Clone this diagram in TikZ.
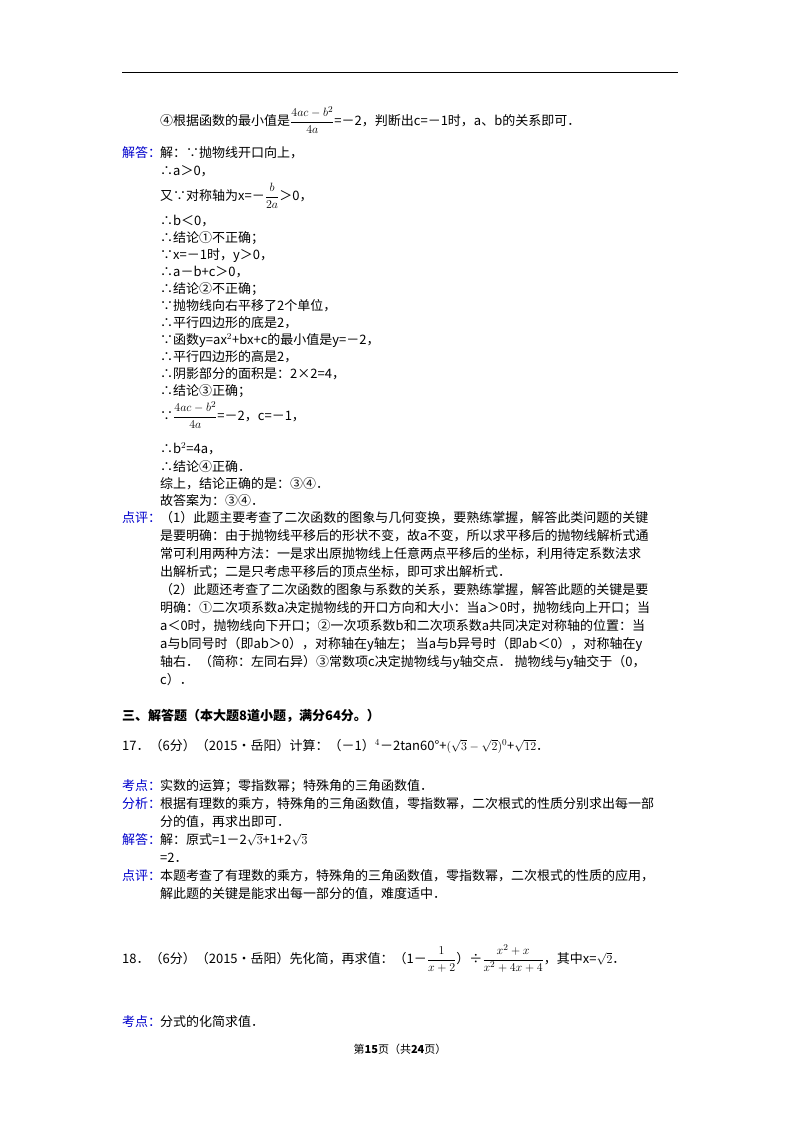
\documentclass[tikz,border=0pt]{standalone}
\usepackage{amsmath}
\usepackage{fontspec}
\setmainfont{Noto Sans CJK SC}
\begin{document}
\begin{tikzpicture}[x=1pt,y=-1pt,
  t/.style={anchor=base west,inner sep=0pt,font=\fontsize{13}{15}\selectfont},
  lab/.style={t,text=blue!80!black}]
\useasboundingbox[fill=white] (0,0) rectangle (800,1132);
\draw[line width=0.8pt] (122,72) -- (678,72);
\node[t] (l1) at (160,125) {④根据函数的最小值是$\dfrac{4ac-b^2}{4a}$=－2，判断出c=－1时，a、b的关系即可．};
\node[lab] (j1) at (122,157) {解答：};
\node[t] (a1) at (160,157) {解：∵抛物线开口向上，};
\node[t] (a2) at (160,175) {∴a＞0，};
\node[t] (a3) at (160,200) {又∵对称轴为x=－$\dfrac{b}{2a}$＞0，};
\node[t] (a4) at (160,225) {∴b＜0，};
\node[t] (a5) at (160,242) {∴结论①不正确；};
\node[t] (a6) at (160,259) {∵x=－1时，y＞0，};
\node[t] (a7) at (160,276) {∴a－b+c＞0，};
\node[t] (a8) at (160,293) {∴结论②不正确；};
\node[t] (a9) at (160,310) {∵抛物线向右平移了2个单位，};
\node[t] (a10) at (160,327) {∴平行四边形的底是2，};
\node[t] (a11) at (160,344) {∵函数y=ax$^2$+bx+c的最小值是y=－2，};
\node[t] (a12) at (160,361) {∴平行四边形的高是2，};
\node[t] (a13) at (160,378) {∴阴影部分的面积是：2×2=4，};
\node[t] (a14) at (160,395) {∴结论③正确；};
\node[t] (a15) at (160,420) {∵$\dfrac{4ac-b^2}{4a}$=－2，c=－1，};
\node[t] (a16) at (160,453) {∴b$^2$=4a，};
\node[t] (a17) at (160,471) {∴结论④正确．};
\node[t] (a18) at (160,488) {综上，结论正确的是：③④．};
\node[t] (a19) at (160,505) {故答案为：③④．};
\node[lab] (p1) at (122,522) {点评：};
\node[t] at (160,522) {（1）此题主要考查了二次函数的图象与几何变换，要熟练掌握，解答此类问题的关键};
\node[t] at (160,540) {是要明确：由于抛物线平移后的形状不变，故a不变，所以求平移后的抛物线解析式通};
\node[t] at (160,558) {常可利用两种方法：一是求出原抛物线上任意两点平移后的坐标，利用待定系数法求};
\node[t] at (160,576) {出解析式；二是只考虑平移后的顶点坐标，即可求出解析式．};
\node[t] at (160,594) {（2）此题还考查了二次函数的图象与系数的关系，要熟练掌握，解答此题的关键是要};
\node[t] at (160,612) {明确：①二次项系数a决定抛物线的开口方向和大小：当a＞0时，抛物线向上开口；当};
\node[t] at (160,630) {a＜0时，抛物线向下开口；②一次项系数b和二次项系数a共同决定对称轴的位置：当};
\node[t] at (160,648) {a与b同号时（即ab＞0），对称轴在y轴左；\ 当a与b异号时（即ab＜0），对称轴在y};
\node[t] at (160,666) {轴右．（简称：左同右异）③常数项c决定抛物线与y轴交点．\ 抛物线与y轴交于（0，};
\node[t] at (160,684) {c）．};
\node[t,font=\fontsize{13}{15}\selectfont\bfseries] (h3) at (122,720) {三、解答题（本大题8道小题，满分64分。）};
\node[t] (q17) at (122,750) {17．（6分）（2015•岳阳）计算：（－1）$^4$－2tan60°+$(\sqrt{3}-\sqrt{2})^0$+$\sqrt{12}$．};
\node[lab] (k1) at (122,790) {考点：};
\node[t] at (160,790) {实数的运算；零指数幂；特殊角的三角函数值．};
\node[lab] (f1) at (122,808) {分析：};
\node[t] at (160,808) {根据有理数的乘方，特殊角的三角函数值，零指数幂，二次根式的性质分别求出每一部};
\node[t] at (160,826) {分的值，再求出即可．};
\node[lab] (j2) at (122,844) {解答：};
\node[t] at (160,844) {解：原式=1－2$\sqrt{3}$+1+2$\sqrt{3}$};
\node[t] at (160,862) {=2．};
\node[lab] (p2) at (122,880) {点评：};
\node[t] at (160,880) {本题考查了有理数的乘方，特殊角的三角函数值，零指数幂，二次根式的性质的应用，};
\node[t] at (160,898) {解此题的关键是能求出每一部分的值，难度适中．};
\node[t] (q18) at (122,963) {18．（6分）（2015•岳阳）先化简，再求值：（1－$\dfrac{1}{x+2}$）÷$\dfrac{x^2+x}{x^2+4x+4}$，其中x=$\sqrt{2}$．};
\node[lab] (k2) at (122,1026) {考点：};
\node[t] at (160,1026) {分式的化简求值．};
\node[t,anchor=base,font=\fontsize{11}{13}\selectfont] (pg) at (400,1053) {第\textbf{15}页（共\textbf{24}页）};
\end{tikzpicture}
\end{document}
